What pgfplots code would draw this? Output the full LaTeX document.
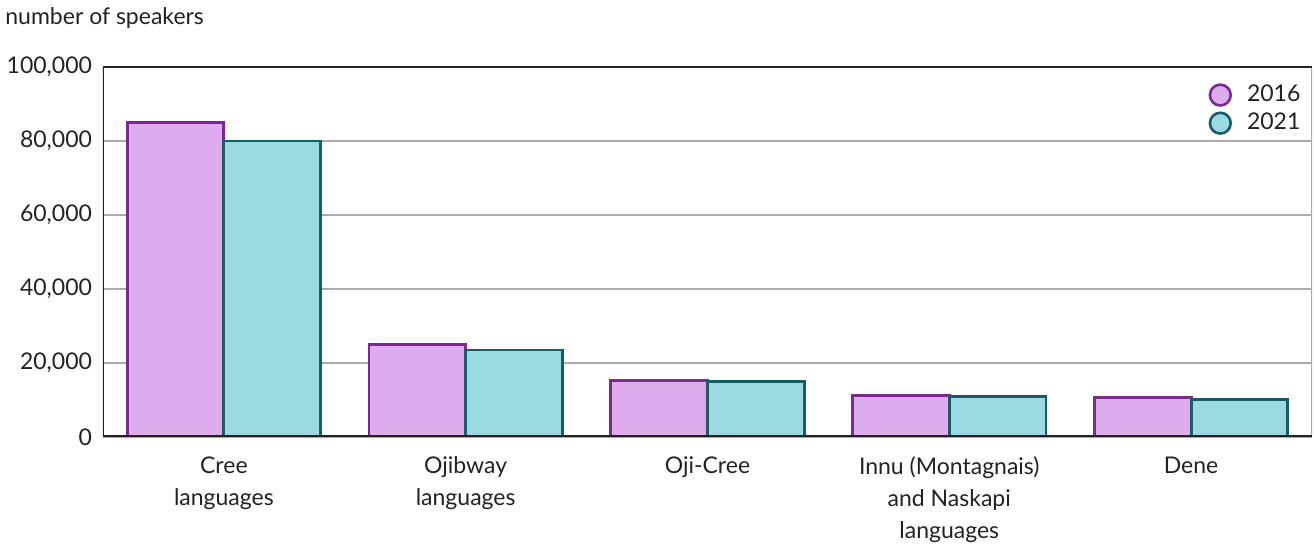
\documentclass[border=0pt]{standalone}
\usepackage{fontspec}
\setmainfont{Lato}
\usepackage{pgfplots}
\pgfplotsset{compat=1.18}
\definecolor{fillA}{HTML}{DFABEF}
\definecolor{edgeA}{HTML}{7A2B8F}
\definecolor{fillB}{HTML}{9BD9E3}
\definecolor{edgeB}{HTML}{1A5C64}
\definecolor{axisc}{HTML}{222222}
\definecolor{gridc}{HTML}{AAAAAA}
\begin{document}
\fontsize{11.5pt}{16pt}\selectfont
\begin{tikzpicture}
\path[use as bounding box] (-51.5pt,-53.5pt) rectangle (605.5pt,218.5pt);
\begin{axis}[
  at={(0,0)}, anchor=south west,
  scale only axis, width=604.5pt, height=185pt,
  xmin=-0.5, xmax=4.5, ymin=0, ymax=100000,
  ybar=0pt, bar width=0.4,
  xtick={0,1,2,3,4},
  xticklabels={{Cree\\languages},{Ojibway\\languages},{Oji-Cree},{Innu (Montagnais)\\and Naskapi\\languages},{Dene}},
  xticklabel style={align=center, font=\fontsize{11.5pt}{16pt}\selectfont, text=axisc, yshift=-6pt},
  ytick={0,20000,40000,60000,80000,100000},
  yticklabels={0,{20,000},{40,000},{60,000},{80,000},{100,000}},
  yticklabel style={font=\fontsize{11.5pt}{16pt}\selectfont, text=axisc, xshift=-1.5pt},
  scaled y ticks=false,
  major tick length=0pt,
  axis line style={draw=none},
  ymajorgrids, grid style={gridc, line width=0.6pt},
  legend style={draw=none, fill=none, at={(0.999,0.974)}, anchor=north east,
    font=\fontsize{11.5pt}{16pt}\selectfont, text=axisc, row sep=0pt,
    /tikz/every odd column/.style={column sep=5.5pt}},
  legend cell align=left,
  legend image code/.code={\draw[#1, line width=1.3pt] (0.25cm,0) circle (5.2pt);},
]
\addplot[fill=fillA, draw=edgeA, line width=1.4pt, bar shift=-0.2] coordinates {(0,85000) (1,25100) (2,15200) (3,11200) (4,10600)};
\addplot[fill=fillB, draw=edgeB, line width=1.4pt, bar shift=0.2] coordinates {(0,80000) (1,23500) (2,15000) (3,10900) (4,10100)};
\legend{2016,2021}
\draw[gridc, line width=0.6pt] (rel axis cs:1,0) -- (rel axis cs:1,1);
\draw[axisc, line width=1.1pt] (rel axis cs:0,1) -- (rel axis cs:1,1);
\draw[axisc, line width=1.5pt] (rel axis cs:0,1) -- (rel axis cs:0,0) -- (rel axis cs:1,0);
\end{axis}
\node[anchor=base west, text=axisc, inner sep=0pt] at (-49pt,206pt) {number of speakers};
\end{tikzpicture}
\end{document}
